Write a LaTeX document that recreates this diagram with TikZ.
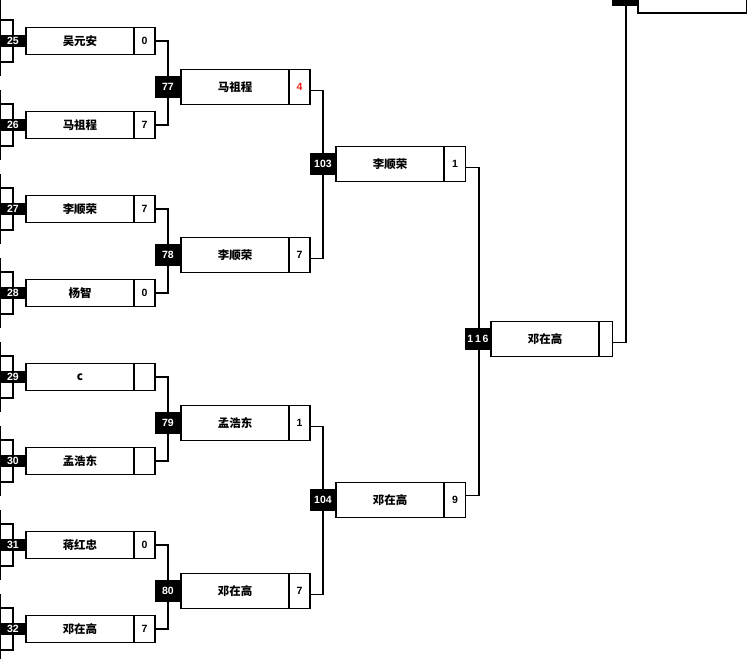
\documentclass[tikz,border=0pt]{standalone}
\usepackage{fontspec}
\setmainfont{Liberation Sans}
\newfontfamily\cjk{Noto Sans CJK SC}
\definecolor{redfour}{RGB}{235,30,20}
\pgfdeclarelayer{bg}
\pgfsetlayers{bg,main}
\tikzset{
  ln/.style={line width=1.1pt},
  namebox/.style={draw, line width=1.1pt, inner sep=0pt, minimum width=108pt,
    font=\cjk\bfseries\fontsize{11.5}{13}\selectfont},
  scorebox/.style={draw, line width=1.1pt, inner sep=0pt, minimum width=21pt,
    font=\bfseries\fontsize{10.5}{12}\selectfont},
  lab/.style={fill=black, text=white, inner sep=0pt, minimum width=26pt,
    minimum height=22pt, font=\bfseries\fontsize{10.5}{12}\selectfont},
}
\begin{document}
\begin{tikzpicture}[x=1pt,y=-1pt]
\useasboundingbox (0,0) rectangle (748,659);
\clip (0,0) rectangle (748,659);
% round 1
\foreach \id/\c/\nm/\sc in {25/41/吴元安/0, 26/125/马祖程/7, 27/209/李顺荣/7, 28/293/杨智/0,
  29/377/c/{}, 30/461/孟浩东/{}, 31/545/蒋红忠/0, 32/629/邓在高/7}{
  \draw[ln] (0,\c-21) -- (13,\c-21) -- (13,\c+21) -- (0,\c+21);
  \draw[ln] (0.6,\c-35) -- (0.6,\c+35);
  \node[namebox, minimum height=27.7pt] (n\id) at (80,\c) {\nm};
  \node[scorebox, minimum height=27.7pt] (s\id) at (144.5,\c) {\sc};
  \node[lab, minimum height=12.5pt] (l\id) at (13,\c) {\id};
}
\draw[ln] (0.6,0) -- (0.6,10);
% round 2
\foreach \id/\c/\nm/\sc in {77/87/马祖程/{\textcolor{redfour}{4}}, 78/255/李顺荣/7,
  79/423/孟浩东/1, 80/591/邓在高/7}{
  \node[namebox, minimum height=34.7pt] (n\id) at (235,\c) {\nm};
  \node[scorebox, minimum height=34.7pt] (s\id) at (299.5,\c) {\sc};
  \node[lab] (l\id) at (168,\c) {\id};
}
% round 3
\foreach \id/\c/\nm/\sc in {103/163.7/李顺荣/1, 104/499.7/邓在高/9}{
  \node[namebox, minimum height=35.3pt] (n\id) at (390,\c) {\nm};
  \node[scorebox, minimum height=35.3pt, minimum width=21.4pt] (s\id) at (455,\c) {\sc};
  \node[lab] (l\id) at (323,\c) {\id};
}
% round 4
\node[namebox, minimum height=35.3pt] (n116) at (545,338.7) {邓在高};
\node[scorebox, minimum height=35.3pt, minimum width=13.3pt] (s116) at (605.7,338.7) {};
\node[lab] (l116) at (478,339) {1\,1\,6};
% round 5 (cut off)
\node[draw, line width=1.1pt, inner sep=0pt, minimum width=108.5pt, minimum height=33pt] (ntop) at (692.2,-3.5) {};
\node[lab, minimum height=20pt] (ltop) at (625,-4) {};
% connectors
\begin{pgfonlayer}{bg}
\draw[ln] (s25.east) -| (l77.center) |- (s26.east);
\draw[ln] (s27.east) -| (l78.center) |- (s28.east);
\draw[ln] (s29.east) -| (l79.center) |- (s30.east);
\draw[ln] (s31.east) -| (l80.center) |- (s32.east);
\draw[ln] ([yshift=-3.5pt]s77.east) -| (l103.center) |- ([yshift=-3.5pt]s78.east);
\draw[ln] ([yshift=-3.5pt]s79.east) -| (l104.center) |- ([yshift=-3.5pt]s80.east);
\draw[ln] ([yshift=-4pt]s103.east) -| ([xshift=1pt]l116.center) |- ([yshift=4pt]s104.east);
\draw[ln] ([yshift=-3.6pt]s116.east) -| ([xshift=1pt]ltop.center);
\end{pgfonlayer}
\end{tikzpicture}
\end{document}
